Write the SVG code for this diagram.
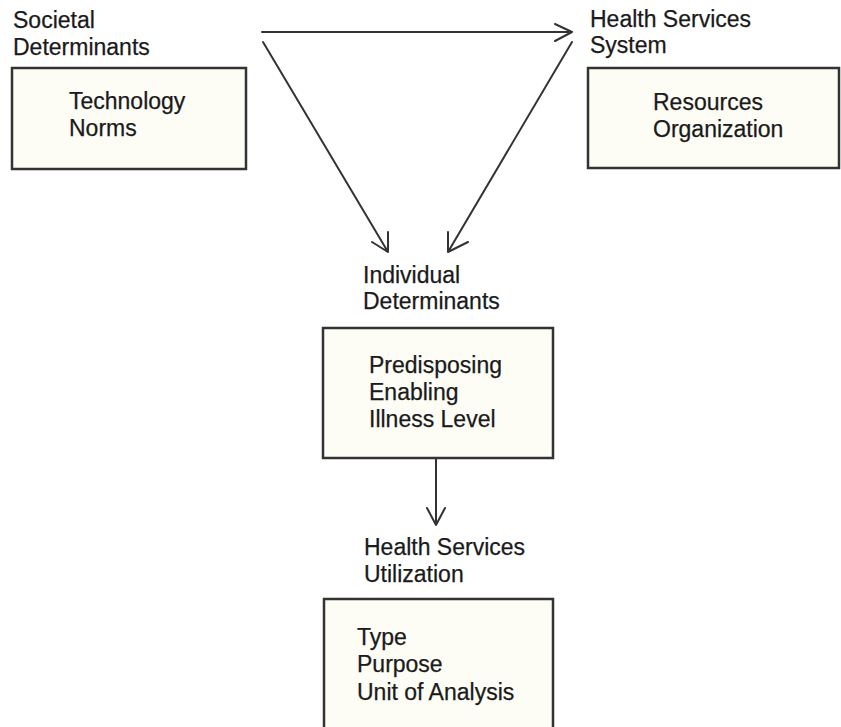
<svg xmlns="http://www.w3.org/2000/svg" width="841" height="727" viewBox="0 0 841 727">
<defs>
<style>
.box{fill:#fdfdf6;stroke:#333;stroke-width:2.5}
.t{font-family:"Liberation Sans",Arial,Helvetica,sans-serif;font-size:23px;fill:#1a1a1a;stroke:#1a1a1a;stroke-width:0.25}
.c{fill:none;stroke:#333;stroke-width:2;stroke-linecap:round;stroke-linejoin:round}
</style>
</defs>
<rect width="841" height="727" fill="#ffffff"/>
<g id="societal">
<text class="t" x="13" y="28">Societal</text>
<text class="t" x="13" y="55">Determinants</text>
<rect class="box" x="12" y="68" width="234" height="101"/>
<text class="t" x="69" y="109">Technology</text>
<text class="t" x="69" y="136">Norms</text>
</g>
<g id="health-system">
<text class="t" x="590" y="27">Health Services</text>
<text class="t" x="590" y="53">System</text>
<rect class="box" x="588" y="68" width="251" height="100"/>
<text class="t" x="653" y="110">Resources</text>
<text class="t" x="653" y="137">Organization</text>
</g>
<g id="individual">
<text class="t" x="363" y="283">Individual</text>
<text class="t" x="363" y="309">Determinants</text>
<rect class="box" x="323" y="328" width="230" height="130"/>
<text class="t" x="369" y="373">Predisposing</text>
<text class="t" x="369" y="400">Enabling</text>
<text class="t" x="369" y="427">Illness Level</text>
</g>
<g id="utilization">
<text class="t" x="364" y="555">Health Services</text>
<text class="t" x="364" y="582">Utilization</text>
<rect class="box" x="324" y="599" width="229" height="140"/>
<text class="t" x="357" y="645">Type</text>
<text class="t" x="357" y="672">Purpose</text>
<text class="t" x="357" y="700">Unit of Analysis</text>
</g>
<g id="connectors">
<path class="c" d="M262 32 L572 32 M555 24 L572 32 L555 41"/>
<path class="c" d="M263 42 L388 252 M388 232 L388 252 L372 242"/>
<path class="c" d="M572 42 L448 252 M448 232 L448 252 L468 242"/>
<path class="c" d="M436 458 L436 525 M427 508 L436 525 L445 508"/>
</g>
</svg>
